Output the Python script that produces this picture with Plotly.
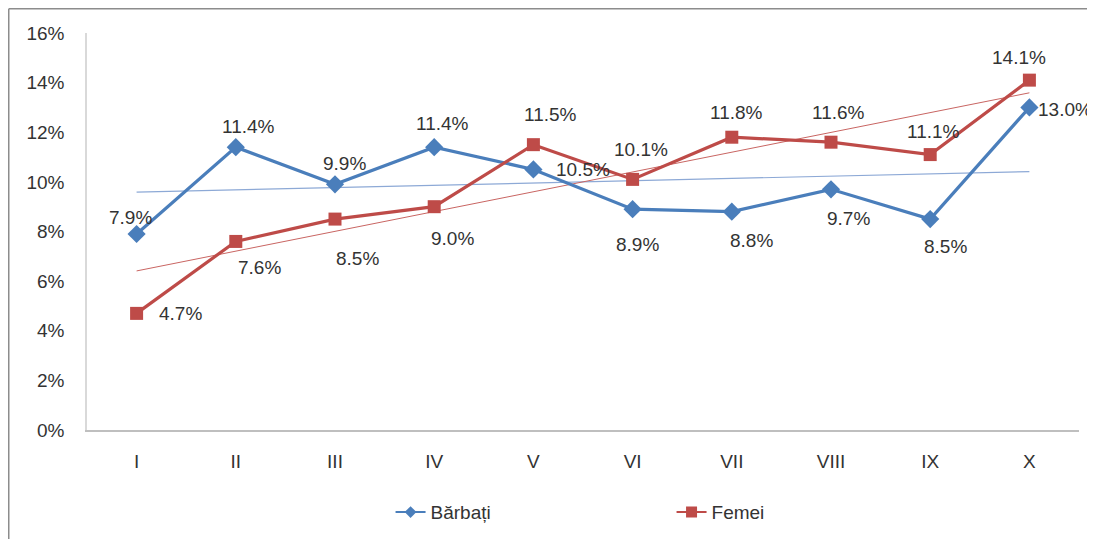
import numpy as np
import plotly.graph_objects as go

categories = ["I", "II", "III", "IV", "V", "VI", "VII", "VIII", "IX", "X"]
barbati = [7.9, 11.4, 9.9, 11.4, 10.5, 8.9, 8.8, 9.7, 8.5, 13.0]
femei = [4.7, 7.6, 8.5, 9.0, 11.5, 10.1, 11.8, 11.6, 11.1, 14.1]
y_ticks = [0, 2, 4, 6, 8, 10, 12, 14, 16]
y_tick_labels = [f"{v}%" for v in y_ticks]

# label offsets (pixels): styling only
barbati_dx = [-6, 13, 9, 8, 50, 5, 20, 17, 15, 36]
barbati_dy = [16, 21, 21, 24, 0, -35, -29, -29, -27, -2]
femei_dx = [44, 24, 22, 18, 17, 8, 5, 7, 3, -10]
femei_dy = [0, -26, -39, -32, 30, 30, 25, 30, 23, 23]

BLUE = "#4A7EBB"
RED = "#BE4B48"
FONT = "Liberation Sans"
TXT = "#333333"
FS = 19

# page body has an 8px margin; figure sized to fit the 1095x539 window
W, H = 1087, 531
L, R, T, B = 79, 16, 25, 109
PW = W - L - R
PH = H - T - B

xi = np.arange(1, len(categories) + 1)


def trend(vals):
    k, b = np.polyfit(xi, np.array(vals), 1)
    return list(k * xi + b)


fig = go.Figure()
fig.add_trace(go.Scatter(x=categories, y=trend(barbati), mode="lines",
                         line=dict(color="#8DA9D6", width=1.2),
                         showlegend=False, hoverinfo="skip"))
fig.add_trace(go.Scatter(x=categories, y=trend(femei), mode="lines",
                         line=dict(color="#C96562", width=1),
                         showlegend=False, hoverinfo="skip"))
fig.add_trace(go.Scatter(x=categories, y=barbati, mode="lines+markers",
                         name="Bărbați", showlegend=False,
                         line=dict(color=BLUE, width=3.2),
                         marker=dict(symbol="diamond", size=14, color=BLUE)))
fig.add_trace(go.Scatter(x=categories, y=femei, mode="lines+markers",
                         name="Femei", showlegend=False,
                         line=dict(color=RED, width=3.2),
                         marker=dict(symbol="square", size=13, color=RED)))
# legend entries (thin line + small marker like the reference)
fig.add_trace(go.Scatter(x=[None], y=[None], mode="lines+markers",
                         name="Bărbați",
                         line=dict(color=BLUE, width=2),
                         marker=dict(symbol="diamond", size=9, color=BLUE)))
fig.add_trace(go.Scatter(x=[None], y=[None], mode="lines+markers",
                         name="Femei",
                         line=dict(color=RED, width=2),
                         marker=dict(symbol="square", size=11, color=RED)))

annotations = []
for vals, dxs, dys in ((barbati, barbati_dx, barbati_dy),
                       (femei, femei_dx, femei_dy)):
    for c, v, dx, dy in zip(categories, vals, dxs, dys):
        annotations.append(dict(x=c, y=v, text=f"{v:.1f}%", showarrow=False,
                                xshift=dx, yshift=dy,
                                font=dict(family=FONT, size=FS, color=TXT)))

fig.update_layout(
    width=W, height=H,
    margin=dict(l=L, r=R, t=T, b=B, autoexpand=False),
    paper_bgcolor="white", plot_bgcolor="white",
    font=dict(family=FONT, size=FS, color=TXT),
    annotations=annotations,
    showlegend=True,
    legend=dict(orientation="h", x=0.306, xanchor="left", y=-0.207,
                yanchor="middle", entrywidth=236, entrywidthmode="pixels",
                font=dict(family=FONT, size=FS, color=TXT)),
    xaxis=dict(type="category", range=[-0.5, 9.5], showgrid=False,
               showline=True, linecolor="#BFBFBF", linewidth=1.5,
               ticks="", ticklabelstandoff=13, zeroline=False,
               automargin=False,
               tickfont=dict(family=FONT, size=FS, color=TXT)),
    yaxis=dict(range=[0, 16], tickvals=y_ticks, ticktext=y_tick_labels,
               showgrid=False, zeroline=False, showline=True,
               linecolor="#D9D9D9", linewidth=1.5, ticks="",
               ticklabelstandoff=17, automargin=False,
               tickfont=dict(family=FONT, size=FS, color=TXT)),
    shapes=[
        dict(type="line", xref="paper", yref="paper",
             x0=(0.75 - L) / PW, x1=(W - L) / PW,
             y0=(T + PH - 0.75) / PH, y1=(T + PH - 0.75) / PH,
             line=dict(color="#8C8C8C", width=1.5)),
        dict(type="line", xref="paper", yref="paper",
             x0=(0.75 - L) / PW, x1=(0.75 - L) / PW,
             y0=(T + PH - 0.75) / PH, y1=-(B + 5) / PH,
             line=dict(color="#8C8C8C", width=1.5)),
    ],
)

fig.write_html("out.html")
